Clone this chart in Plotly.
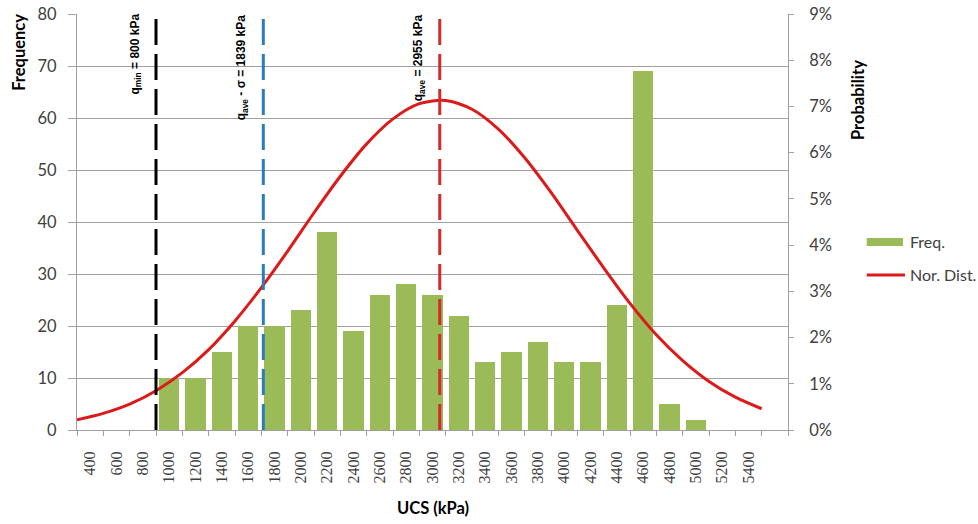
import plotly.graph_objects as go

# ---- data ----
bin_labels = [400, 600, 800, 1000, 1200, 1400, 1600, 1800, 2000, 2200, 2400, 2600, 2800,
              3000, 3200, 3400, 3600, 3800, 4000, 4200, 4400, 4600, 4800, 5000, 5200, 5400]
frequency = [0, 0, 0, 10, 10, 15, 20, 20, 23, 38, 19, 26, 28,
             26, 22, 13, 15, 17, 13, 13, 24, 69, 5, 2, 0, 0]

# normal-distribution curve (UCS in kPa, probability in %)
curve_ucs = [200, 400, 600, 800, 1000, 1200, 1400, 1600, 1800, 2000, 2200, 2400, 2600, 2800,
             3000, 3200, 3400, 3600, 3800, 4000, 4200, 4400, 4600, 4800, 5000, 5200, 5400]
curve_prob = [0.22, 0.36, 0.56, 0.85, 1.24, 1.74, 2.36, 3.08, 3.87, 4.70, 5.49, 6.19, 6.73, 7.06,
              7.13, 6.94, 6.51, 5.89, 5.14, 4.32, 3.51, 2.74, 2.06, 1.50, 1.05, 0.71, 0.46]

ref_ucs = [800, 1615, 2955]
ref_text = ["q<sub>min</sub> = 800 kPa", "q<sub>ave</sub> - σ = 1839 kPa", "q<sub>ave</sub> = 2955 kPa"]
ref_colors = ["#000000", "#2A7DB8", "#D42A2A"]

BIN = 200
GREEN = "#9BBB59"
RED = "#DD1A1A"
GRID = "#A0A0A0"
TXT = "#404040"

bar_x = [v - BIN / 2 for v in bin_labels]

fig = go.Figure()
fig.add_trace(go.Bar(x=bar_x, y=frequency, width=155, marker=dict(color=GREEN, line=dict(width=0)),
                     name="Freq.", showlegend=False))
fig.add_trace(go.Scatter(x=curve_ucs, y=curve_prob, mode="lines", yaxis="y2",
                         line=dict(color=RED, width=3, shape="spline", smoothing=0.8),
                         name="Nor. Dist.", showlegend=False))

shapes = []
annotations = []
for xv, txt, col in zip(ref_ucs, ref_text, ref_colors):
    shapes.append(dict(type="line", xref="x", yref="y", x0=xv, x1=xv, y0=0, y1=80,
                       line=dict(color=col, width=3, dash="26px,9px"), layer="above"))
    annotations.append(dict(xref="x", yref="paper", x=xv, y=1, xanchor="right", yanchor="top",
                            xshift=-11, yshift=2, text=txt, textangle=-90, showarrow=False,
                            font=dict(family="Liberation Sans", size=12, color="#000000", weight="bold")))

TITLE_FONT = dict(family="Lato", size=16.5, color="#000000", weight="bold")
annotations.append(dict(xref="paper", yref="paper", x=-0.0825, y=1, xanchor="center", yanchor="top",
                        yshift=2, text="Frequency", textangle=-90, showarrow=False, font=TITLE_FONT))
annotations.append(dict(xref="paper", yref="paper", x=1.0984, y=0.894, xanchor="center", yanchor="top",
                        text="Probability", textangle=-90, showarrow=False, font=TITLE_FONT))
annotations.append(dict(xref="paper", yref="paper", x=0.5, y=-0.1875, xanchor="center", yanchor="middle",
                        text="UCS (kPa)", showarrow=False, font=TITLE_FONT))

# legend (drawn by hand to match the wide flat swatches)
shapes.append(dict(type="rect", xref="paper", yref="paper", x0=1.1107, x1=1.1617, y0=0.4423, y1=0.4615,
                   fillcolor=GREEN, line=dict(width=0)))
shapes.append(dict(type="line", xref="paper", yref="paper", x0=1.1107, x1=1.1645, y0=0.3726, y1=0.3726,
                   line=dict(color=RED, width=3)))
LEG_FONT = dict(family="Lato", size=16, color=TXT)
annotations.append(dict(xref="paper", yref="paper", x=1.1688, y=0.452, xanchor="left", yanchor="middle",
                        text="Freq.", showarrow=False, font=LEG_FONT))
annotations.append(dict(xref="paper", yref="paper", x=1.1688, y=0.3726, xanchor="left", yanchor="middle",
                        text="Nor. Dist.", showarrow=False, font=LEG_FONT))

fig.update_layout(
    width=978, height=524,
    margin=dict(l=77, r=190, t=14, b=94, autoexpand=False),
    paper_bgcolor="white", plot_bgcolor="white",
    showlegend=False,
    bargap=0,
    shapes=shapes,
    annotations=annotations,
    xaxis=dict(range=[200, 5600], tickvals=bar_x, ticktext=[str(v) for v in bin_labels],
               tickangle=-90, ticks="", showgrid=False, zeroline=False, automargin=False,
               showline=True, linecolor=GRID, linewidth=1,
               ticklabelstandoff=14,
               tickfont=dict(family="Liberation Serif", size=16, color=TXT),
               minor=dict(ticks="outside", ticklen=5, tickcolor=GRID, tick0=200, dtick=200, showgrid=False)),
    yaxis=dict(range=[0, 80], dtick=10, showgrid=True, gridcolor=GRID, gridwidth=1, automargin=False,
               zeroline=False, showline=True, linecolor=GRID, linewidth=1,
               ticks="outside", ticklen=8, tickcolor=GRID, ticklabelstandoff=8,
               tickfont=dict(family="Lato", size=16.5, color=TXT)),
    yaxis2=dict(range=[0, 9], dtick=1, ticksuffix="%", overlaying="y", side="right", automargin=False,
                showgrid=False, zeroline=False, showline=True, linecolor=GRID, linewidth=1,
                ticks="outside", ticklen=5, tickcolor=GRID, ticklabelstandoff=12,
                tickfont=dict(family="Lato", size=16.5, color=TXT)),
)

fig.write_html("out.html", config={"displayModeBar": False},
               post_script="document.body.style.margin='0px';")
